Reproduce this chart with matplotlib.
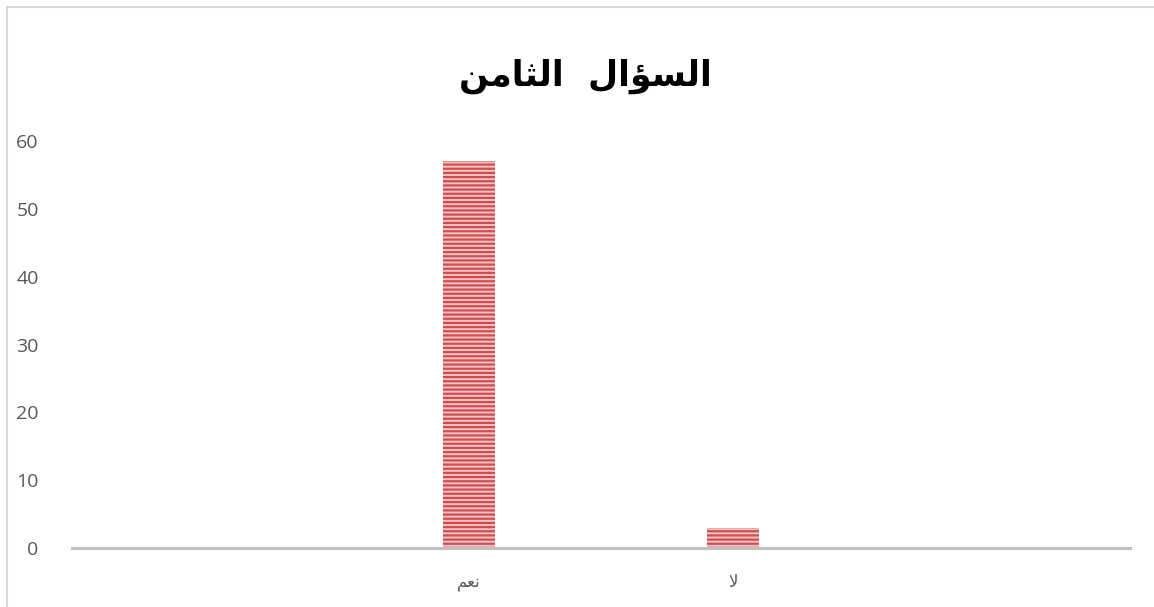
import numpy as np
import matplotlib.pyplot as plt
from matplotlib.patches import Rectangle

# Daten (arabische Texte in Praesentationsformen, visuelle Reihenfolge,
# da matplotlib kein Arabisch formt)
titel = "ﻦﻣﺎﺜﻟﺍ  ﻝﺍﺆﺴﻟﺍ"          # السؤال الثامن
kategorien = ["", "ﻢﻌﻧ", "ﻻ", ""]   # "", نعم, لا, ""
werte = [0, 57, 3, 0]
yticks = [0, 10, 20, 30, 40, 50, 60]

plt.rcParams['hatch.linewidth'] = 1.6

fig = plt.figure(figsize=(11.54, 6.07), dpi=100)
W, H = 1154, 607

# Rahmen des Diagramms
fig.patches.append(Rectangle((7 / W, -0.1), 1.2, 1 - 7 / H + 0.1,
                             transform=fig.transFigure, fill=False,
                             edgecolor="#d9d9d9", linewidth=1.5))

ax = fig.add_axes([72 / W, 59 / H, (1130 - 72) / W, (548 - 141) / H])

x = np.arange(len(kategorien))
ax.bar(x, werte, width=0.195, facecolor="#f4c4c3", edgecolor="#cf4d50",
       hatch="----", linewidth=0)

ax.set_xlim(-0.5, len(kategorien) - 0.5)
ax.set_ylim(0, 60)
ax.set_yticks(yticks)
ax.set_xticks(x)
ax.set_xticklabels(kategorien, fontsize=12, color="#595959",
                   family="DejaVu Sans")

for s in ["top", "right", "left"]:
    ax.spines[s].set_visible(False)
ax.spines["bottom"].set_color("#bfbfbf")
ax.spines["bottom"].set_linewidth(2.2)

ax.tick_params(axis="both", length=0, colors="#595959")
ax.tick_params(axis="y", pad=24, labelsize=14)
ax.tick_params(axis="x", pad=18)
for lab in ax.get_yticklabels():
    lab.set_family("Open Sans")

fig.text(585 / W, 1 - 76 / H, titel, ha="center", va="center",
         fontsize=25, fontweight="bold", family="DejaVu Sans", color="black")

fig.savefig("out.png", dpi=100)
